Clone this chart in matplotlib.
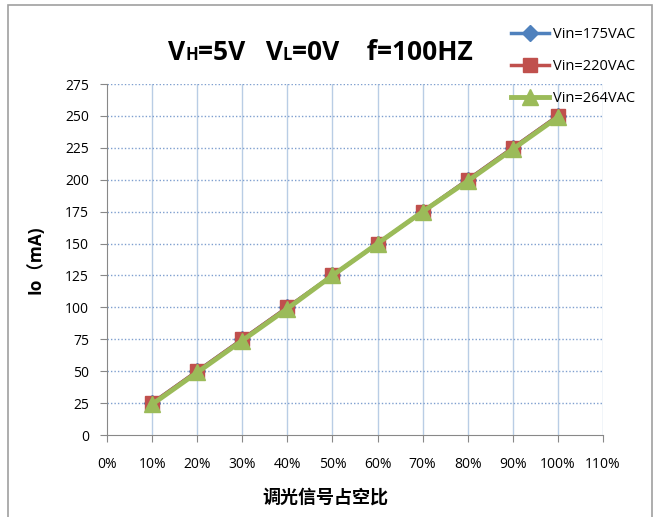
import matplotlib
matplotlib.use('Agg')
import matplotlib.pyplot as plt
from matplotlib.patches import Rectangle

plt.rcParams['font.family'] = ['Open Sans', 'Noto Sans CJK SC', 'DejaVu Sans']

# Data
duty = [10, 20, 30, 40, 50, 60, 70, 80, 90, 100]   # %
io_175 = [25, 50, 75, 100, 125, 150, 175, 200, 225, 250]
io_220 = [25, 50, 75, 100, 125, 150, 175, 200, 225, 250]
io_264 = [24, 49, 74, 99, 125, 150, 175, 199, 224, 249]
labels = ['Vin=175VAC', 'Vin=220VAC', 'Vin=264VAC']

x_ticks = list(range(0, 111, 10))
y_ticks = list(range(0, 276, 25))

fig = plt.figure(figsize=(6.57, 5.17), dpi=100)
ax = fig.add_axes([0.1629, 0.1586, 0.7549, 0.6789])

# outer chart border
fig.patches.append(Rectangle((8 / 657, -0.01), 644 / 657, 1 - 5 / 517 + 0.01,
                             transform=fig.transFigure, fill=False,
                             edgecolor='#a0a0a0', linewidth=1.2))

ax.plot(duty, io_175, color='#4F81BD', marker='D', markersize=8, linewidth=2.5,
        label=labels[0])
ax.plot(duty, io_220, color='#C0504D', marker='s', markersize=10.5, linewidth=2.5,
        label=labels[1])
ax.plot(duty, io_264, color='#9BBB59', marker='^', markersize=12, linewidth=3.5,
        label=labels[2])

ax.set_xlim(0, 110)
ax.set_ylim(0, 275)
ax.set_xticks(x_ticks)
ax.set_xticklabels([f'{t}%' for t in x_ticks])
ax.set_yticks(y_ticks)

# grid: vertical solid light blue, horizontal dotted blue
for t in x_ticks[1:]:
    ax.axvline(t, color='#b9cde5', linewidth=1.0, zorder=0)
for t in y_ticks[1:]:
    ax.axhline(t, color='#7f9fcf', linewidth=1.0, linestyle=(0, (1, 1.5)), zorder=0)

for s in ['top', 'right']:
    ax.spines[s].set_visible(False)
for s in ['left', 'bottom']:
    ax.spines[s].set_color('#888888')
ax.tick_params(axis='both', colors='#888888', length=5, labelsize=10,
               labelcolor='black', pad=8)
ax.tick_params(axis='x', pad=11)

ax.set_ylabel('Io（mA)', fontsize=12.5, fontweight='bold', labelpad=15)
fig.text(325 / 657, 1 - 497 / 517, '调光信号占空比', fontsize=13, fontweight='bold',
         ha='center', va='center', family=['Noto Sans CJK SC', 'DejaVu Sans'])

# title built from pieces on one baseline so H and L come out small
pieces = [('V', 19), ('H', 12), ('=5V   V', 19), ('L', 12), ('=0V    f=100HZ', 19)]
renderer = fig.canvas.get_renderer()
x = 168 / 657
base = 1 - 60 / 517
for txt, size in pieces:
    t = fig.text(x, base, txt, fontsize=size, fontweight='bold',
                 ha='left', va='baseline')
    bb = t.get_window_extent(renderer)
    x = bb.x1 / fig.bbox.width

fig.legend(loc='upper left', bbox_to_anchor=(498 / 657, 1 - 14 / 517),
           frameon=False, fontsize=10.5, handlelength=2.6, labelspacing=1.15,
           handletextpad=0.3)

plt.savefig('out.png', dpi=100)
